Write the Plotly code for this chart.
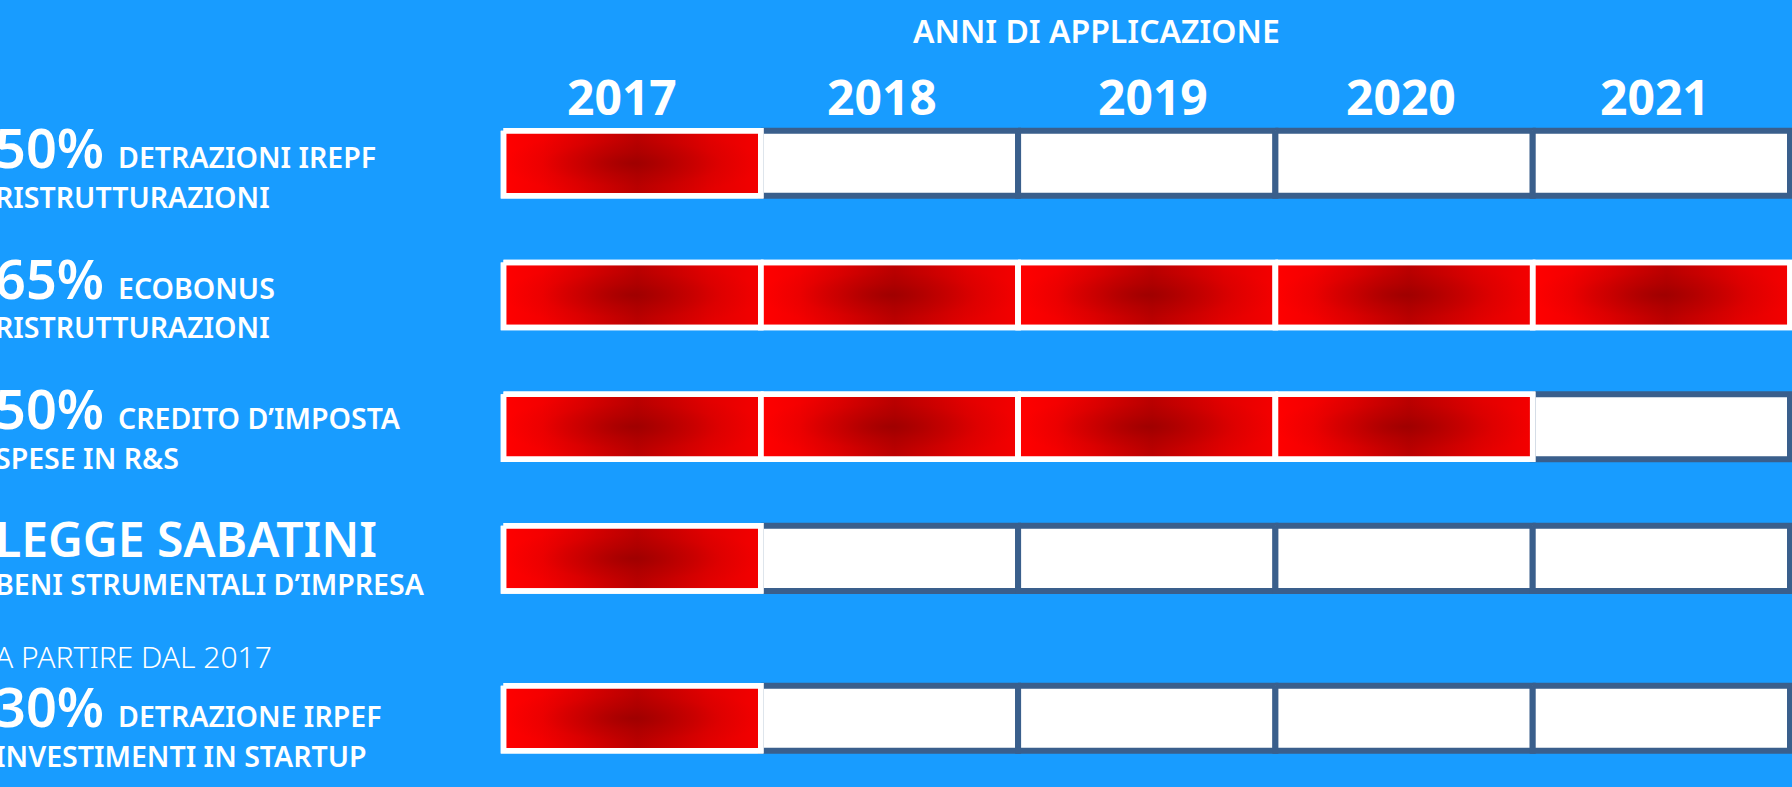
import plotly.graph_objects as go

# ---------------- data ----------------
years = ["2017", "2018", "2019", "2020", "2021"]
rates = ["50%", "65%", "50%", "", "30%"]
headlines = ["DETRAZIONI IREPF", "ECOBONUS", "CREDITO D’IMPOSTA",
             "LEGGE SABATINI", "DETRAZIONE IRPEF"]
sublines = ["RISTRUTTURAZIONI", "RISTRUTTURAZIONI", "SPESE IN R&S",
            "BENI STRUMENTALI D’IMPRESA", "INVESTIMENTI IN STARTUP"]
notes = ["", "", "", "", "A PARTIRE DAL 2017"]
active = [
    [1, 0, 0, 0, 0],
    [1, 1, 1, 1, 1],
    [1, 1, 1, 1, 0],
    [1, 0, 0, 0, 0],
    [1, 0, 0, 0, 0],
]
title = "ANNI DI APPLICAZIONE"

# ---------------- layout / style ----------------
W, H = 1792, 787
BG = "#189CFF"
X0_PX, CELL_W = 503.5, 257.3
ROW0_PX, ROW_UNIT = 163.3, 131.7
NOTE_GAP = 0.214
HALF_H = 0.247
FONT = "Noto Sans"
BIG_FS, SMALL_FS, YEAR_FS, TITLE_FS, SAB_FS, NOTE_FS = 54, 28.5, 48, 32, 48, 30
TEXT_X_PX = -7
BIG_BASE = [168.0, 298.5, 429.0, 557.0, 727.0]
SMALL_BASE = [208.0, 338.5, 469.0, 595.0, 767.0]
NOTE_BASE = 668.5
YEAR_BASE = 115.0
YEAR_SHIFT = [-10, -7, 6, -3, -6]
TITLE_BASE, TITLE_X = 42.7, 1096.7
RED_BASE = [[0, "#ff0000"], [0.15, "#f40000"], [0.3, "#e00000"],
            [0.42, "#cc0000"], [0.52, "#bc0000"], [0.64, "#cc0000"],
            [0.8, "#e20000"], [1, "#f40000"]]
RED_GLOW = [[0, "rgba(140,0,0,0.6)"], [0.35, "rgba(140,0,0,0.3)"],
            [0.7, "rgba(140,0,0,0.08)"], [1, "rgba(140,0,0,0)"]]
EMPTY_LINE = "#3a5f8c"

# row positions (data units), notes push rows down
row_pos = []
shift = 0.0
for i, n in enumerate(notes):
    if n:
        shift += NOTE_GAP
    row_pos.append(i + shift)

fig = go.Figure()

for filled_pass in (0, 1):
    for r, p in enumerate(row_pos):
        for j, yr in enumerate(years):
            if active[r][j] != filled_pass:
                continue
            xs = [j - 0.5, j + 0.5, j + 0.5, j - 0.5, j - 0.5]
            ys = [p - HALF_H, p - HALF_H, p + HALF_H, p + HALF_H, p - HALF_H]
            kw = dict(x=xs, y=ys, mode="lines", fill="toself", hoverinfo="skip",
                      showlegend=False)
            if filled_pass:
                fig.add_trace(go.Scatter(**kw, line=dict(color="white", width=5.5),
                                         fillgradient=dict(type="horizontal",
                                                           colorscale=RED_BASE)))
                fig.add_trace(go.Scatter(**kw, line=dict(color="white", width=5.5),
                                         fillgradient=dict(type="radial",
                                                           colorscale=RED_GLOW)))
            else:
                fig.add_trace(go.Scatter(**kw, line=dict(color=EMPTY_LINE, width=6),
                                         fillcolor="white"))


def py(px):
    return 1 - px / H


def mid(baseline, fs):
    return baseline - 0.388 * fs


ann = []
# title
ann.append(dict(xref="paper", yref="paper", x=TITLE_X / W, y=py(mid(TITLE_BASE, TITLE_FS)),
                xanchor="center", yanchor="middle", text=title, showarrow=False,
                font=dict(family=FONT, size=TITLE_FS, color="white", weight=600)))
# years
for j, yr in enumerate(years):
    ann.append(dict(xref="x", yref="paper", x=j, y=py(mid(YEAR_BASE, YEAR_FS)),
                    xanchor="center", yanchor="middle", text=yr, showarrow=False,
                    xshift=YEAR_SHIFT[j],
                    font=dict(family=FONT, size=YEAR_FS, color="white", weight=700)))
# row labels
for r in range(len(headlines)):
    if rates[r]:
        html = f"<span style='font-size:{BIG_FS}px'>{rates[r]} </span>{headlines[r]}"
        fs_big = BIG_FS
        size = SMALL_FS
    else:
        html = headlines[r]
        fs_big = SAB_FS
        size = SAB_FS
    ann.append(dict(xref="paper", yref="paper", x=TEXT_X_PX / W, y=py(mid(BIG_BASE[r], fs_big)),
                    xanchor="left", yanchor="middle", text=html, showarrow=False,
                    font=dict(family=FONT, size=size, color="white", weight=600)))
    ann.append(dict(xref="paper", yref="paper", x=TEXT_X_PX / W, y=py(mid(SMALL_BASE[r], SMALL_FS)),
                    xanchor="left", yanchor="middle", text=sublines[r], showarrow=False,
                    font=dict(family=FONT, size=SMALL_FS, color="white", weight=600)))
    if notes[r]:
        ann.append(dict(xref="paper", yref="paper", x=TEXT_X_PX / W, y=py(mid(NOTE_BASE, NOTE_FS)),
                        xanchor="left", yanchor="middle", text=notes[r], showarrow=False,
                        font=dict(family=FONT, size=NOTE_FS, color="white", weight=300)))

fig.update_layout(
    width=W, height=H, margin=dict(l=0, r=0, t=0, b=0),
    paper_bgcolor=BG, plot_bgcolor=BG,
    xaxis=dict(range=[-0.5 - X0_PX / CELL_W, -0.5 + (W - X0_PX) / CELL_W],
               visible=False, fixedrange=True),
    yaxis=dict(range=[(H - ROW0_PX) / ROW_UNIT, -ROW0_PX / ROW_UNIT],
               visible=False, fixedrange=True),
    annotations=ann,
)

fig.write_html(
    "out.html",
    config={"displayModeBar": False},
    post_script="document.body.style.margin='0';document.body.style.overflow='hidden';"
                "document.body.style.background='" + BG + "';",
)
